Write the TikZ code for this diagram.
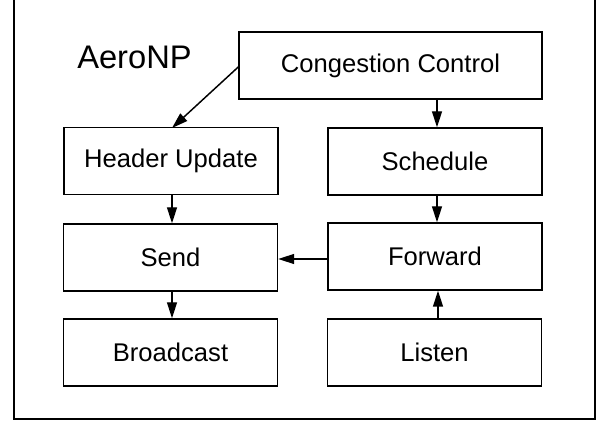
\documentclass[tikz,border=0pt]{standalone}
\usepackage{fontspec}
\setmainfont{Liberation Sans}
\usetikzlibrary{arrows.meta}
\begin{document}
\begin{tikzpicture}[x=0.75pt,y=-0.75pt,
  blk/.style={draw, line width=1.1pt, minimum width=160.5pt, minimum height=50.25pt, inner sep=0pt, font=\fontsize{19.2}{23}\selectfont},
  arr/.style={line width=1.1pt, -{Triangle[length=12pt,width=7.5pt]}},
  frame/.style={line width=1.3pt}]
\useasboundingbox (0,0) rectangle (602,423);
\draw[frame] (14,0) -- (14,419) -- (595,419) -- (595,0);
\node[anchor=base west, inner sep=0pt, font=\fontsize{24.5}{28}\selectfont] (title) at (77,69) {AeroNP};
\node[blk, minimum width=227.25pt] (cc) at (390.5,65.5) {Congestion Control};
\node[blk] (hu) at (171,161) {Header Update};
\node[blk] (sc) at (435,161.5) {Schedule};
\node[blk] (se) at (170.5,257.5) {Send};
\node[blk] (fw) at (435,256.5) {Forward};
\node[blk] (bc) at (170.5,352.5) {Broadcast};
\node[blk] (li) at (434.5,352.5) {Listen};
\draw[arr] (cc.west |- 0,67) -- (172,128);
\draw[arr] (cc.south -| 437,0) -- (sc.north -| 437,0);
\draw[arr] (sc.south -| 437,0) -- (fw.north -| 437,0);
\draw[arr] (hu.south -| 172,0) -- (se.north -| 172,0);
\draw[arr] (fw.west |- 0,259) -- (se.east |- 0,259);
\draw[arr] (se.south -| 172,0) -- (bc.north -| 172,0);
\draw[arr] (li.north -| 438,0) -- (fw.south -| 438,0);
\end{tikzpicture}
\end{document}
